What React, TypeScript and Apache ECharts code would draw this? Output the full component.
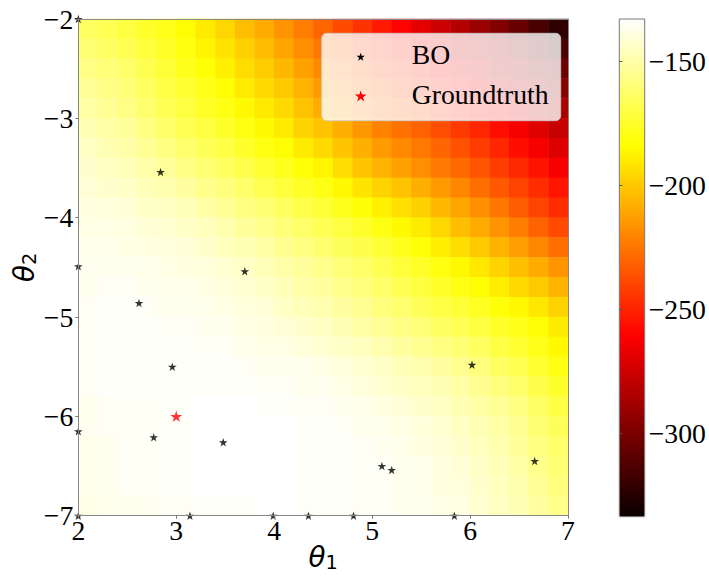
import React, { useEffect, useRef } from 'react';
import * as echarts from 'echarts';

// Cell centres of the likelihood grid (theta1 across, theta2 top to bottom)
const theta1Centers = [2.1, 2.3, 2.5, 2.7, 2.9, 3.1, 3.3, 3.5, 3.7, 3.9, 4.1, 4.3, 4.5, 4.7, 4.9, 5.1, 5.3, 5.5, 5.7, 5.9, 6.1, 6.3, 6.5, 6.7, 6.9];
const theta2Centers = [-2.1, -2.3, -2.5, -2.7, -2.9, -3.1, -3.3, -3.5, -3.7, -3.9, -4.1, -4.3, -4.5, -4.7, -4.9, -5.1, -5.3, -5.5, -5.7, -5.9, -6.1, -6.3, -6.5, -6.7, -6.9];

// Estimated surface values, one row per theta2 centre (top row first)
const surfaceRows = [
  [-164, -167, -171, -175, -179, -184, -190, -196, -203, -209, -216, -223, -230, -238, -245, -253, -260, -268, -276, -283, -291, -298, -306, -315, -323],
  [-161, -164, -167, -172, -176, -181, -187, -192, -198, -204, -211, -218, -225, -232, -239, -246, -253, -261, -268, -275, -282, -289, -297, -306, -314],
  [-157, -160, -163, -168, -173, -178, -183, -188, -194, -199, -205, -212, -219, -226, -233, -239, -246, -253, -260, -267, -274, -281, -289, -297, -304],
  [-154, -157, -160, -165, -170, -174, -179, -184, -190, -195, -200, -207, -214, -220, -227, -233, -239, -245, -252, -259, -266, -273, -280, -288, -295],
  [-151, -154, -157, -162, -167, -171, -176, -180, -185, -190, -195, -202, -209, -215, -221, -227, -232, -238, -244, -250, -257, -264, -271, -279, -286],
  [-148, -151, -153, -158, -163, -167, -171, -175, -180, -185, -190, -197, -202, -208, -215, -221, -226, -231, -237, -243, -249, -256, -263, -270, -277],
  [-145, -148, -150, -154, -158, -162, -166, -170, -175, -180, -184, -190, -195, -201, -208, -214, -219, -224, -230, -236, -242, -249, -256, -263, -270],
  [-143, -145, -147, -150, -153, -157, -161, -165, -169, -174, -178, -183, -187, -194, -201, -207, -212, -218, -224, -229, -235, -242, -248, -255, -262],
  [-141, -143, -144, -147, -149, -152, -156, -159, -163, -168, -172, -176, -180, -186, -192, -197, -202, -208, -214, -220, -227, -234, -240, -247, -254],
  [-139, -140, -141, -144, -145, -147, -151, -154, -158, -161, -165, -169, -173, -178, -183, -188, -193, -198, -205, -211, -218, -225, -232, -240, -247],
  [-138, -138, -139, -141, -142, -144, -146, -149, -153, -156, -160, -163, -167, -171, -175, -180, -185, -190, -196, -203, -209, -216, -223, -231, -238],
  [-137, -137, -138, -139, -140, -141, -143, -146, -148, -151, -155, -158, -162, -166, -169, -173, -178, -183, -189, -194, -200, -207, -213, -220, -227],
  [-136, -136, -136, -137, -138, -139, -140, -142, -144, -147, -150, -153, -156, -160, -163, -167, -172, -176, -181, -186, -191, -197, -203, -209, -216],
  [-136, -135, -135, -136, -137, -137, -138, -140, -142, -144, -147, -150, -152, -156, -159, -163, -167, -171, -175, -180, -184, -189, -195, -200, -206],
  [-135, -134, -134, -135, -136, -136, -137, -138, -140, -141, -144, -147, -149, -152, -155, -159, -162, -166, -170, -173, -177, -182, -186, -191, -197],
  [-135, -134, -134, -134, -135, -135, -136, -136, -138, -139, -141, -143, -145, -148, -151, -154, -157, -160, -164, -167, -171, -175, -179, -184, -190],
  [-135, -134, -134, -134, -134, -134, -135, -135, -137, -138, -138, -140, -142, -144, -146, -149, -152, -155, -158, -161, -165, -170, -174, -179, -185],
  [-135, -134, -134, -134, -134, -134, -134, -134, -135, -136, -136, -137, -138, -140, -142, -144, -147, -149, -152, -155, -159, -164, -168, -174, -180],
  [-135, -134, -134, -134, -134, -134, -134, -134, -134, -135, -135, -136, -136, -138, -140, -142, -144, -146, -148, -151, -155, -159, -163, -169, -175],
  [-136, -135, -135, -135, -134, -134, -133, -133, -133, -134, -134, -135, -135, -136, -137, -139, -141, -143, -145, -148, -151, -154, -158, -164, -170],
  [-136, -135, -135, -135, -134, -134, -133, -133, -133, -133, -133, -134, -134, -135, -136, -137, -138, -140, -142, -145, -148, -151, -155, -161, -166],
  [-137, -136, -135, -135, -134, -134, -133, -133, -133, -133, -133, -134, -134, -134, -135, -136, -137, -139, -141, -143, -146, -149, -153, -158, -163],
  [-137, -136, -135, -135, -134, -134, -133, -133, -133, -133, -133, -134, -134, -134, -135, -135, -136, -137, -139, -141, -144, -147, -151, -156, -161],
  [-137, -136, -135, -135, -134, -134, -133, -133, -133, -133, -133, -134, -134, -134, -135, -135, -136, -137, -139, -140, -143, -146, -149, -154, -159],
  [-138, -137, -136, -136, -135, -135, -134, -134, -134, -133, -133, -134, -134, -134, -135, -135, -136, -136, -138, -139, -142, -145, -148, -152, -156],
];

// BO evaluation points
const boTheta1 = [2.0, 2.84, 2.0, 2.62, 3.70, 2.96, 6.02, 2.0, 2.77, 3.48, 5.10, 5.20, 6.66, 3.14, 3.99, 4.35, 4.81, 5.84, 2.0];
const boTheta2 = [-2.0, -3.54, -4.49, -4.86, -4.54, -5.50, -5.48, -6.15, -6.21, -6.26, -6.50, -6.54, -6.45, -7.0, -7.0, -7.0, -7.0, -7.0, -7.0];

// Ground truth
const truthTheta1 = [3.0];
const truthTheta2 = [-6.0];

// Axis ranges and colour-bar ticks
const theta1Range = [2, 7];
const theta2Range = [-7, -2];
const colorRange = [-333.5, -133];
const colorbarTicks = [-300, -250, -200, -150];
const seriesNames = ['BO', 'Groundtruth'];

const FONT = "'Liberation Serif', 'Times New Roman', serif";
const FS = 27.7;

function hot(t: number): string {
  const r = t < 0.365079 ? 0.0416 + (1 - 0.0416) * t / 0.365079 : 1;
  const g = t < 0.365079 ? 0 : t < 0.746032 ? (t - 0.365079) / (0.746032 - 0.365079) : 1;
  const b = t < 0.746032 ? 0 : (t - 0.746032) / (1 - 0.746032);
  const c = (v: number) => Math.round(Math.max(0, Math.min(1, v)) * 255);
  return `rgb(${c(r)},${c(g)},${c(b)})`;
}
const hotColors = Array.from({ length: 65 }, (_, k) => hot(k / 64));

function starPoints(cx: number, cy: number, R: number): number[][] {
  const pts: number[][] = [];
  for (let k = 0; k < 10; k++) {
    const rad = k % 2 === 0 ? R : R * 0.381966;
    const a = -Math.PI / 2 + (k * Math.PI) / 5;
    pts.push([cx + rad * Math.cos(a), cy + rad * Math.sin(a)]);
  }
  return pts;
}
const starPath = (() => {
  const p = starPoints(0, 0, 10);
  return 'path://M' + p.map((q) => q[0].toFixed(3) + ',' + q[1].toFixed(3)).join('L') + 'Z';
})();

const fmtMinus = (v: number) => (v < 0 ? '\u2212' + Math.abs(v) : String(v));

const thetaRich = {
  t: { fontFamily: "'DejaVu Sans', sans-serif", fontStyle: 'italic', fontSize: FS, lineHeight: 29, color: '#000' },
  s: { fontFamily: "'DejaVu Sans', sans-serif", fontSize: 19.4, lineHeight: 29, verticalAlign: 'bottom', color: '#000' },
};

export default function App() {
  const ref = useRef<HTMLDivElement>(null);
  useEffect(() => {
    if (!ref.current) return;
    const chart = echarts.init(ref.current, null, { renderer: 'svg' });
    const heatData: number[][] = [];
    surfaceRows.forEach((row, j) => row.forEach((v, i) => heatData.push([i, j, v])));
    const boData = boTheta1.map((x, k) => [x, boTheta2[k]]);
    const truthData = truthTheta1.map((x, k) => [x, truthTheta2[k]]);

    const option: any = {
      animation: false,
      backgroundColor: '#ffffff',
      grid: [
        { left: 78.3, top: 19, width: 489.7, height: 496.7, containLabel: false, outerBoundsMode: 'none' },
        { left: 619.3, top: 19, width: 25.4, height: 497.7, containLabel: false, outerBoundsMode: 'none', show: true, borderColor: '#777', borderWidth: 1, backgroundColor: 'transparent', z: 6 },
      ],
      xAxis: [
        {
          type: 'category', gridIndex: 0, data: theta1Centers.map(String), position: 'top', z: 10,
          axisLine: { show: true, lineStyle: { color: '#888', width: 1 } },
          axisTick: { show: false }, axisLabel: { show: false }, splitLine: { show: false },
        },
        {
          type: 'value', gridIndex: 0, min: theta1Range[0], max: theta1Range[1], interval: 1, position: 'bottom', z: 10,
          axisLine: { show: true, onZero: false, lineStyle: { color: '#888', width: 1 } },
          axisTick: { show: true, length: 3, lineStyle: { color: '#777' } },
          axisLabel: { show: true, margin: 1, fontFamily: FONT, fontSize: FS, color: '#000', formatter: fmtMinus, showMinLabel: true, showMaxLabel: true, hideOverlap: false },
          splitLine: { show: false },
          name: '{t|θ}{s|1}', nameLocation: 'middle', nameGap: 27, nameMoveOverlap: false,
          nameTextStyle: { rich: thetaRich },
        },
        { type: 'value', gridIndex: 1, show: false, min: 0, max: 1 },
      ],
      yAxis: [
        {
          type: 'category', gridIndex: 0, data: theta2Centers.map(String), inverse: true, position: 'right', z: 10,
          axisLine: { show: true, lineStyle: { color: '#888', width: 1 } },
          axisTick: { show: false }, axisLabel: { show: false }, splitLine: { show: false },
        },
        {
          type: 'value', gridIndex: 0, min: theta2Range[0], max: theta2Range[1], interval: 1, position: 'left', z: 10,
          axisLine: { show: true, onZero: false, lineStyle: { color: '#888', width: 1 } },
          axisTick: { show: true, length: 3, lineStyle: { color: '#777' } },
          axisLabel: { show: true, margin: 5, padding: [4, 0, 0, 0], fontFamily: FONT, fontSize: FS, color: '#000', formatter: fmtMinus, showMinLabel: true, showMaxLabel: true, hideOverlap: false },
          splitLine: { show: false },
          name: '{t|θ}{s|2}', nameLocation: 'middle', nameGap: 39, nameRotate: 90, nameMoveOverlap: false,
          nameTextStyle: { rich: thetaRich },
        },
        {
          type: 'value', gridIndex: 1, min: colorRange[0], max: colorRange[1], position: 'right', z: 10,
          axisLine: { show: false },
          axisTick: { show: true, length: 3, lineStyle: { color: '#555' }, customValues: colorbarTicks },
          axisLabel: { show: true, margin: 4, fontFamily: FONT, fontSize: FS, color: '#000', formatter: fmtMinus, customValues: colorbarTicks },
          splitLine: { show: false },
        },
      ],
      visualMap: {
        type: 'continuous', min: colorRange[0], max: colorRange[1], seriesIndex: 0,
        show: true, calculable: false, orient: 'vertical', left: 619.3, top: 19, padding: 0,
        itemWidth: 25.4, itemHeight: 497.7, text: null, hoverLink: false,
        inRange: { color: hotColors },
      },
      series: [
        {
          type: 'heatmap', xAxisIndex: 0, yAxisIndex: 0, data: heatData, z: 2,
          emphasis: { disabled: true }, itemStyle: { borderWidth: 0 },
        },
        {
          name: seriesNames[0], type: 'scatter', xAxisIndex: 1, yAxisIndex: 1, data: boData, z: 3,
          symbol: starPath, symbolSize: [8.8, 8.4], itemStyle: { color: '#000' }, clip: true,
        },
        {
          name: seriesNames[1], type: 'scatter', xAxisIndex: 1, yAxisIndex: 1, data: truthData, z: 3,
          symbol: starPath, symbolSize: [11.8, 11.2], itemStyle: { color: '#ff0000' }, clip: true,
        },
      ],
      graphic: [
        {
          type: 'rect', z: 100,
          shape: { x: 321.7, y: 33.3, width: 239, height: 87.4, r: 5 },
          style: { fill: 'rgba(255,255,255,0.8)', stroke: 'rgba(204,204,204,0.8)', lineWidth: 1 },
        },
        { type: 'polygon', z: 101, shape: { points: starPoints(360.7, 57.2, 4.5) }, style: { fill: '#000' } },
        { type: 'polygon', z: 101, shape: { points: starPoints(360.7, 96.5, 6.1) }, style: { fill: '#ff0000' } },
        {
          type: 'text', z: 101, x: 411.7, y: 54,
          style: { text: seriesNames[0], fontFamily: FONT, fontSize: FS, fill: '#000', align: 'left', verticalAlign: 'middle' },
        },
        {
          type: 'text', z: 101, x: 411.7, y: 94.5,
          style: { text: seriesNames[1], fontFamily: FONT, fontSize: FS, fill: '#000', align: 'left', verticalAlign: 'middle' },
        },
      ],
    };
    chart.setOption(option);
    return () => chart.dispose();
  }, []);
  return <div ref={ref} style={{ position: 'absolute', left: 0, top: 0, width: 709, height: 578 }} />;
}
